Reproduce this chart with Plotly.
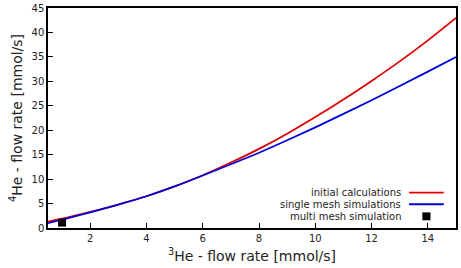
import plotly.graph_objects as go

x_flow = [0.5, 1, 2, 3, 4, 5, 6, 7, 8, 9, 10, 11, 12, 13, 14, 15]
initial_calc = [1.3, 1.9, 3.3, 4.8, 6.5, 8.5, 10.8, 13.4, 16.2, 19.3, 22.7, 26.3, 30.1, 34.1, 38.4, 43.0]
single_mesh = [1.0, 1.7, 3.2, 4.8, 6.5, 8.5, 10.75, 13.05, 15.4, 17.95, 20.6, 23.35, 26.15, 29.05, 32.0, 35.0]
multi_x = [1.0]
multi_y = [1.1]

legend_names = ["initial calculations", "single mesh simulations", "multi mesh simulation"]
x_ticks = [2, 4, 6, 8, 10, 12, 14]
y_ticks = [0, 5, 10, 15, 20, 25, 30, 35, 40, 45]

RED = "#e00000"
BLUE = "#0000d8"

fig = go.Figure()
fig.add_trace(go.Scatter(x=x_flow, y=initial_calc, mode="lines", line=dict(color=RED, width=1.8, shape="spline"),
                         name=legend_names[0], showlegend=False))
fig.add_trace(go.Scatter(x=x_flow, y=single_mesh, mode="lines", line=dict(color=BLUE, width=1.8, shape="spline"),
                         name=legend_names[1], showlegend=False))
fig.add_trace(go.Scatter(x=multi_x, y=multi_y, mode="markers", marker=dict(symbol="square", size=8, color="black"),
                         name=legend_names[2], showlegend=False, cliponaxis=False))

font = "DejaVu Sans"
# custom legend (text right, sample on the right like gnuplot)
leg_y = [0.161, 0.108, 0.053]
for i, name in enumerate(legend_names):
    fig.add_annotation(x=0.871, y=leg_y[i], xref="paper", yref="paper", text=name, showarrow=False,
                       xanchor="right", yanchor="middle", font=dict(family=font, size=10, color="#222"))
fig.add_shape(type="line", xref="paper", yref="paper", x0=0.885, x1=0.97, y0=leg_y[0], y1=leg_y[0],
              line=dict(color=RED, width=1.8))
fig.add_shape(type="line", xref="paper", yref="paper", x0=0.885, x1=0.97, y0=leg_y[1], y1=leg_y[1],
              line=dict(color=BLUE, width=1.8))
fig.add_shape(type="rect", xref="paper", yref="paper", x0=0.9175, x1=0.9375, y0=leg_y[2] - 0.018, y1=leg_y[2] + 0.018,
              fillcolor="black", line=dict(width=0))

fig.update_layout(
    width=461, height=268,
    margin=dict(l=48, r=3, t=6, b=40),
    paper_bgcolor="white", plot_bgcolor="white",
    font=dict(family=font, size=10, color="#222"),
    xaxis=dict(range=[0.5, 15], tickvals=x_ticks, ticks="inside", ticklen=5, tickcolor="black",
               showline=True, linecolor="black", linewidth=1.5, mirror=True, showgrid=False, zeroline=False,
               title=dict(text="<sup>3</sup>He - flow rate [mmol/s]", font=dict(size=14, family=font), standoff=8),
               tickfont=dict(size=10)),
    yaxis=dict(range=[0, 45.02], tickvals=y_ticks, ticks="inside", ticklen=5, tickcolor="black",
               showline=True, linecolor="black", linewidth=1.5, mirror=True, showgrid=False, zeroline=False,
               ticklabeloverflow="allow",
               title=dict(text="<sup>4</sup>He - flow rate [mmol/s]", font=dict(size=14, family=font), standoff=6),
               tickfont=dict(size=10)),
)

fig.write_html("out.html")
